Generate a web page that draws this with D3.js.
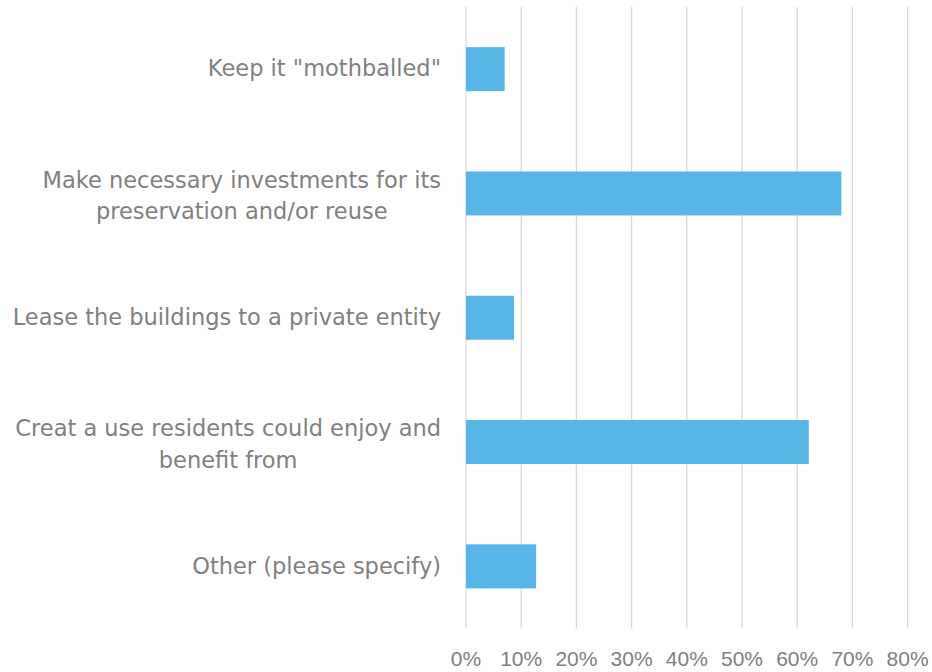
<!DOCTYPE html>
<html><head><meta charset="utf-8">
<script src="https://cdn.jsdelivr.net/npm/d3@7"></script>
<style>body{margin:0;background:#fff}svg{display:block}</style>
</head><body><svg id="c" width="932" height="672"></svg>
<script>
const categories = [
  ["Keep it \"mothballed\""],
  ["Make necessary investments for its", "preservation and/or reuse"],
  ["Lease the buildings to a private entity"],
  ["Creat a use residents could enjoy and", "benefit from"],
  ["Other (please specify)"]
];
const values = [0.07, 0.68, 0.087, 0.621, 0.127];
const tickValues = [0, 0.1, 0.2, 0.3, 0.4, 0.5, 0.6, 0.7, 0.8];

const svg = d3.select("#c");
const pLeft = 466, pRight = 907.6, pTop = 7, pBottom = 628.5;
const x = d3.scaleLinear().domain([0, 0.8]).range([pLeft, pRight]);
const y = d3.scaleBand().domain(d3.range(categories.length)).range([pTop, pBottom]).paddingInner(0.646).paddingOuter(0.323);

svg.append("g").selectAll("line").data(tickValues).join("line")
  .attr("x1", d => x(d)).attr("x2", d => x(d))
  .attr("y1", pTop).attr("y2", pBottom)
  .attr("stroke", "#d9d9d9").attr("stroke-width", 1.3);

svg.append("g").selectAll("rect").data(values).join("rect")
  .attr("x", x(0)).attr("y", (d, i) => y(i))
  .attr("width", d => x(d) - x(0)).attr("height", y.bandwidth())
  .attr("fill", "#57b6e7");

const tickFont = "'Liberation Sans', Arial, sans-serif";
const labFont = "'DejaVu Sans', sans-serif";
svg.append("g").selectAll("text").data(tickValues).join("text")
  .attr("x", d => x(d)).attr("y", 665.5)
  .attr("text-anchor", "middle")
  .attr("font-family", tickFont).attr("font-size", 21).attr("fill", "#808080")
  .text(d => d3.format(".0%")(d));

const lab = svg.append("g").selectAll("text").data(categories).join("text")
  .attr("font-family", labFont).attr("font-size", 22.5).attr("fill", "#808080");
lab.each(function(lines, i) {
  const cy = y(i) + y.bandwidth() / 2;
  const lh = 31.5;
  const n = lines.length;
  const y0 = cy + 7.3 - (n - 1) * lh / 2 + (n - 1) * 2.6;
  const t = d3.select(this);
  const ts = t.selectAll("tspan").data(lines).join("tspan")
    .attr("y", (d, j) => y0 + j * lh).text(d => d);
  let maxW = 0;
  ts.each(function() { maxW = Math.max(maxW, this.getComputedTextLength()); });
  ts.attr("x", 441 - maxW / 2).attr("text-anchor", "middle");
});
</script></body></html>
